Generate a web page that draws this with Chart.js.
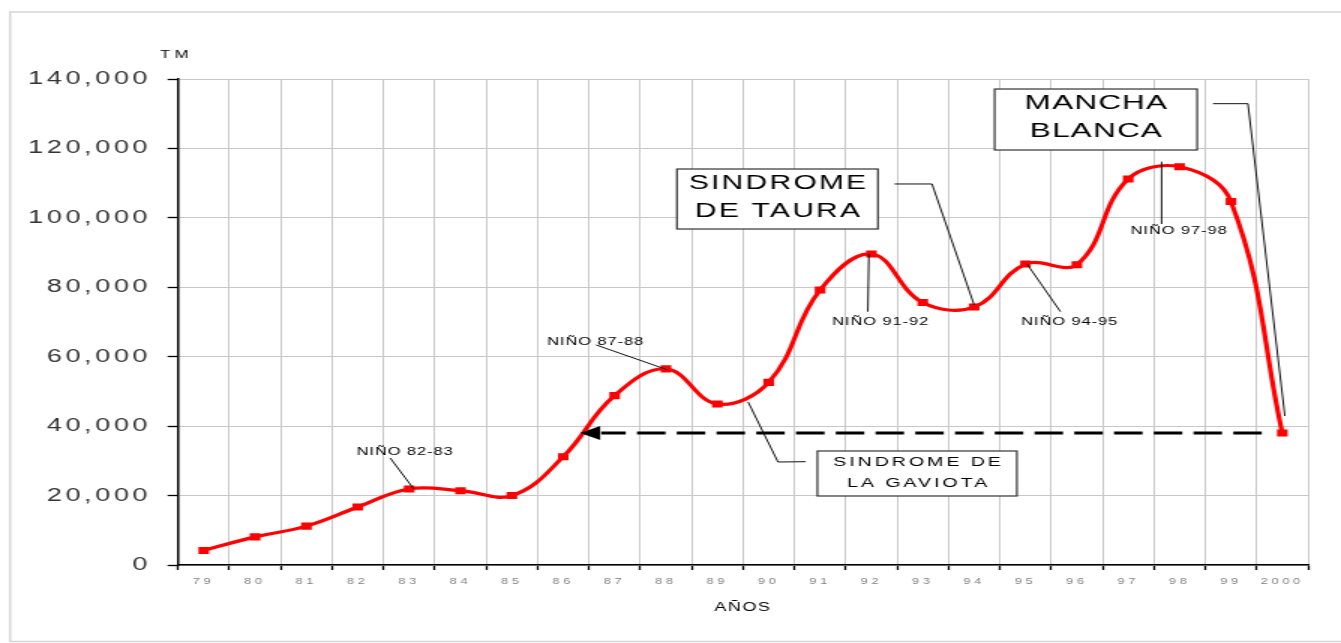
<!DOCTYPE html>
<html>
<head>
<meta charset="utf-8">
<script src="https://cdn.jsdelivr.net/npm/chart.js@4.4.1/dist/chart.umd.min.js"></script>
<style>
html, body { margin: 0; padding: 0; background: #fff; }
#wrap { width: 1341px; height: 643px; overflow: hidden; }
</style>
</head>
<body>
<div id="wrap">
  <!-- drawn narrow and stretched sideways, like the original picture -->
  <canvas id="chart" width="894" height="643" style="width:1341px;height:643px"></canvas>
</div>
<script>
// Producción (TM) por año
const years = ['79', '80', '81', '82', '83', '84', '85', '86', '87', '88', '89',
               '90', '91', '92', '93', '94', '95', '96', '97', '98', '99', '2000'];
const production = [4200, 8100, 11200, 16700, 21900, 21400, 20000, 31200, 48800, 56500, 46400,
                    52600, 79200, 89600, 75600, 74300, 86700, 86500, 111200, 114700, 104700, 38000];
const yMin = 0;
const yMax = 140000;
const yStep = 20000;

// notes: [category index, TM]
const ninoNotes = [
    { lines: ['NIÑO 82-83'], at: [3.92, 32550], leader: [[3.63, 30820], [4.09, 21900]] },
    { lines: ['NIÑO 87-88'], at: [7.63, 64240], leader: [[7.64, 63380], [9.04, 56170]] },
    { lines: ['NIÑO 91-92'], at: [13.18, 70000], leader: [[12.93, 72970], [12.95, 89590]] },
    { lines: ['NIÑO 94-95'], at: [16.86, 70000], leader: [[16.68, 72970], [16.03, 86710]] },
    { lines: ['NIÑO 97-98'], at: [18.99, 96300], leader: [[18.65, 98230], [18.65, 116180]] }
];
const callouts = [
    { lines: ['SINDROME DE', 'LA GAVIOTA'], at: [13.89, 26360], box: [133, 45], font: 13, spacing: 2, offsets: [-11, 10],
      leader: [[11.72, 29760], [11.18, 29670], [10.6, 46960]] },
    { lines: ['SINDROME', 'DE TAURA'], at: [11.17, 105430], box: [134, 60], font: 20, spacing: 1.5, offsets: [-16, 12],
      leader: [[13.45, 109760], [14.18, 109760], [15.0, 74900]] },
    { lines: ['MANCHA', 'BLANCA'], at: [17.37, 128330], box: [135, 61], font: 21, spacing: 0.8, offsets: [-16, 12],
      leader: [[19.65, 132890], [20.33, 132890], [21.05, 42920]] }
];
const arrow = { from: 20.6, to: 7.33, value: production[production.length - 1] };

const FONT = '"Liberation Sans", Arial, sans-serif';

const notesPlugin = {
    id: 'notes',
    beforeDraw(chart) {
        const ctx = chart.ctx;
        ctx.save();
        ctx.strokeStyle = '#d6d6d6';
        ctx.lineWidth = 1.5;
        ctx.beginPath();
        ctx.moveTo(chart.width, 12);
        ctx.lineTo(6.7, 12);
        ctx.lineTo(6.7, 641.5);
        ctx.lineTo(chart.width, 641.5);
        ctx.stroke();
        ctx.restore();
        ctx.letterSpacing = '2.4px'; // y tick labels
    },
    afterDatasetsDraw(chart) {
        const { ctx, scales: { x, y } } = chart;
        const px = p => [x.getPixelForValue(p[0]), y.getPixelForValue(p[1])];
        const path = pts => {
            ctx.beginPath();
            pts.forEach((p, i) => {
                const [a, b] = px(p);
                i ? ctx.lineTo(a, b) : ctx.moveTo(a, b);
            });
            ctx.stroke();
        };
        ctx.save();
        ctx.letterSpacing = '0px';

        // dashed arrow back to the 86-87 level
        const ay = y.getPixelForValue(arrow.value);
        const tip = x.getPixelForValue(arrow.to);
        ctx.strokeStyle = '#000';
        ctx.lineWidth = 3;
        ctx.setLineDash([19, 7.5]);
        ctx.beginPath();
        ctx.moveTo(x.getPixelForValue(arrow.from), ay);
        ctx.lineTo(tip + 14, ay);
        ctx.stroke();
        ctx.setLineDash([]);
        ctx.fillStyle = '#000';
        ctx.beginPath();
        ctx.moveTo(tip, ay);
        ctx.lineTo(tip + 13.3, ay - 7);
        ctx.lineTo(tip + 13.3, ay + 7);
        ctx.closePath();
        ctx.fill();

        // leaders
        ctx.strokeStyle = '#111';
        ctx.lineWidth = 1;
        ninoNotes.forEach(n => path(n.leader));
        callouts.forEach(c => path(c.leader));

        // niño labels
        ctx.fillStyle = '#000';
        ctx.textAlign = 'center';
        ctx.textBaseline = 'middle';
        ctx.font = `11px ${FONT}`;
        ctx.letterSpacing = '0.6px';
        ninoNotes.forEach(n => {
            const [cx, cy] = px(n.at);
            ctx.fillText(n.lines[0], cx, cy);
        });

        // boxes
        callouts.forEach(c => {
            const [cx, cy] = px(c.at);
            const [w, h] = c.box;
            ctx.fillStyle = '#fff';
            ctx.fillRect(cx - w / 2, cy - h / 2, w, h);
            ctx.strokeStyle = '#333';
            ctx.lineWidth = 1.2;
            ctx.strokeRect(cx - w / 2, cy - h / 2, w, h);
            ctx.fillStyle = '#000';
            ctx.font = `${c.font}px ${FONT}`;
            ctx.letterSpacing = c.spacing + 'px';
            c.lines.forEach((t, i) => ctx.fillText(t, cx + c.spacing / 2, cy + c.offsets[i]));
        });
        ctx.restore();
        ctx.letterSpacing = '2.5px'; // x tick labels
    },
    afterDraw(chart) {
        const { ctx, chartArea } = chart;
        ctx.letterSpacing = '0px';
        ctx.save();
        ctx.fillStyle = '#000';
        ctx.textAlign = 'center';
        ctx.textBaseline = 'middle';
        ctx.font = `11px ${FONT}`;
        ctx.letterSpacing = '3px';
        ctx.fillText('TM', chartArea.left - 1, 55);
        ctx.font = `12px ${FONT}`;
        ctx.letterSpacing = '1px';
        ctx.fillText('AÑOS', (chartArea.left + chartArea.right) / 2, 608);
        ctx.restore();
    }
};

new Chart(document.getElementById('chart'), {
    type: 'line',
    data: {
        labels: years,
        datasets: [{
            data: production,
            borderColor: '#ff0000',
            backgroundColor: '#ff0000',
            borderWidth: 3.2,
            tension: 0.4,
            pointStyle: 'rect',
            pointRadius: 5,
            pointBorderWidth: 0,
            pointBackgroundColor: '#ff0000',
            fill: false
        }]
    },
    options: {
        responsive: false,
        animation: false,
        devicePixelRatio: 1,
        layout: { padding: { top: 79, right: 22, bottom: 0, left: 0 } },
        plugins: { legend: { display: false }, tooltip: { enabled: false } },
        scales: {
            x: {
                offset: true,
                grid: { offset: true, color: '#c8c8c8', lineWidth: 1, tickColor: '#000', tickLength: 5, tickWidth: 1.3 },
                border: { color: '#000', width: 1.5 },
                ticks: { color: '#808080', font: { family: FONT, size: 8.5 }, padding: 7, maxRotation: 0, autoSkip: false, z: 1 },
                afterFit: s => { s.height = 78; }
            },
            y: {
                min: yMin,
                max: yMax,
                grid: { color: '#c8c8c8', lineWidth: 1, tickColor: '#000', tickLength: 7, tickWidth: 1.3 },
                border: { color: '#000', width: 1.5 },
                ticks: {
                    stepSize: yStep,
                    color: '#333',
                    font: { family: FONT, size: 18 },
                    padding: 11,
                    callback: v => v.toLocaleString('en-US')
                },
                afterFit: s => { s.width = 118.7; }
            }
        }
    },
    plugins: [notesPlugin]
});
</script>
</body>
</html>
